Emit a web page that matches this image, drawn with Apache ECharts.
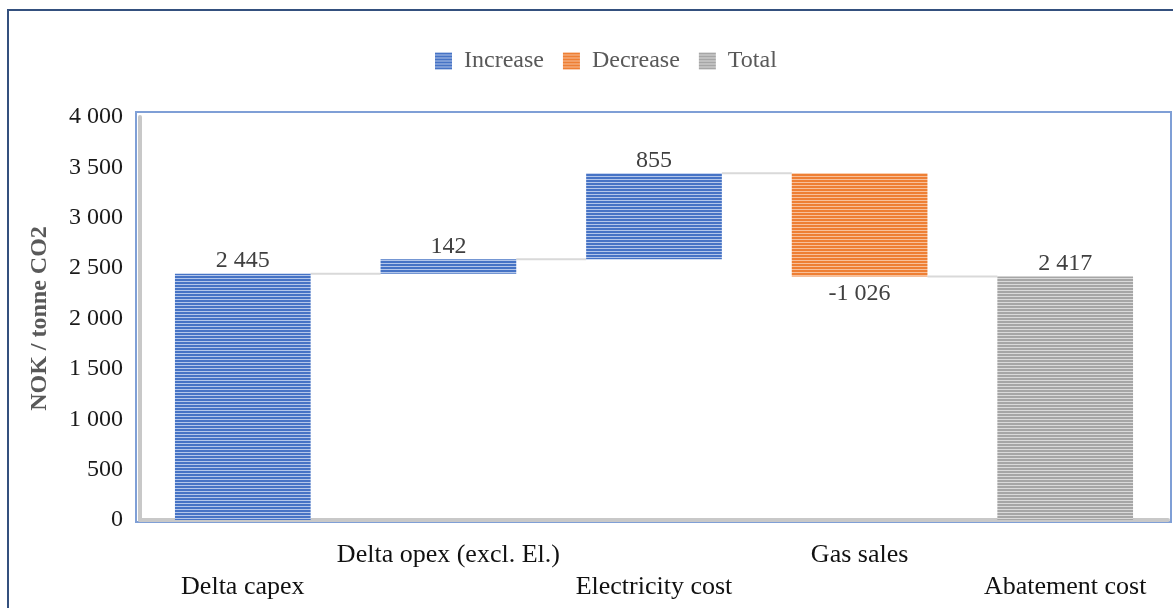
<!DOCTYPE html>
<html>
<head>
<meta charset="utf-8">
<script src="https://cdn.jsdelivr.net/npm/echarts@6/dist/echarts.min.js"></script>
<style>
  html, body { margin: 0; padding: 0; background: #ffffff; }
  #chart { width: 1173px; height: 608px; }
</style>
</head>
<body>
<div id="chart"></div>
<script>
// Waterfall of abatement cost components (NOK / tonne CO2)
const categories = ['Delta capex', 'Delta opex (excl. El.)', 'Electricity cost', 'Gas sales', 'Abatement cost'];
const steps = [2445, 142, 855, -1026];   // signed contributions
const totalValue = 2417;                 // reported total
const yTicks = [0, 500, 1000, 1500, 2000, 2500, 3000, 3500, 4000];

const FONT = 'Liberation Serif';
const fmt = v => {
  const s = String(Math.abs(Math.round(v))).replace(/\B(?=(\d{3})+(?!\d))/g, ' ');
  return (v < 0 ? '-' : '') + s;
};

// Horizontally striped fill, like the hatched bars
function stripes(dark, light) {
  const c = document.createElement('canvas');
  c.width = 4; c.height = 3;
  const g = c.getContext('2d');
  g.fillStyle = dark; g.fillRect(0, 0, 4, 3);
  g.fillStyle = light; g.fillRect(0, 2, 4, 1);
  return { image: c, repeat: 'repeat' };
}
const blueFill = stripes('#4673c5', '#b3c6ea');
const orangeFill = stripes('#ee7f34', '#f8c09a');
const greyFill = stripes('#a6a6a6', '#dadada');

// Build stacked waterfall pieces from the steps
const base = [], inc = [], dec = [], tot = [], levels = [];
let run = 0;
steps.forEach((d, i) => {
  if (d >= 0) { base.push(run); inc.push(d); dec.push('-'); run += d; }
  else { run += d; base.push(run); inc.push('-'); dec.push(-d); }
  tot.push('-');
  levels.push([i, run]);
});
base.push(0); inc.push('-'); dec.push('-'); tot.push(totalValue);

const labelStyle = { show: true, color: '#404040', fontFamily: FONT, fontSize: 24 };

const chart = echarts.init(document.getElementById('chart'));
chart.setOption({
  animation: false,
  textStyle: { fontFamily: FONT },
  graphic: [
    { type: 'rect', silent: true, z: -10,
      shape: { x: 8, y: 10, width: 1200, height: 640 },
      style: { fill: 'none', stroke: '#34507e', lineWidth: 2 } },
    { type: 'rect', silent: true, z: -10,
      shape: { x: 136, y: 112, width: 1035, height: 410 },
      style: { fill: 'none', stroke: '#7f9fd6', lineWidth: 2 } }
  ],
  legend: {
    top: 44, left: 430,
    data: ['Increase', 'Decrease', 'Total'],
    icon: 'rect',
    itemWidth: 17, itemHeight: 17, itemGap: 19,
    textStyle: { fontFamily: FONT, fontSize: 24, color: '#595959', padding: [0, 0, 0, 7] }
  },
  grid: { left: 140, right: 5, top: 117, bottom: 88 },
  xAxis: {
    type: 'category',
    data: categories,
    axisLine: { lineStyle: { color: '#c8c8c8', width: 4 } },
    axisTick: { show: false },
    axisLabel: {
      interval: 0, margin: 19, color: '#111111',
      fontFamily: FONT, fontSize: 26, lineHeight: 32,
      formatter: (v, i) => (i % 2 === 0 ? '\n' + v : v)
    }
  },
  yAxis: {
    type: 'value', min: 0, max: 4000, interval: 500,
    name: 'NOK / tonne CO2', nameLocation: 'middle', nameGap: 88,
    nameTextStyle: { fontFamily: FONT, fontSize: 24, fontWeight: 'bold', color: '#595959' },
    axisLine: { show: true, lineStyle: { color: '#c8c8c8', width: 4 } },
    axisTick: { show: false },
    splitLine: { show: false },
    axisLabel: {
      margin: 17, color: '#1a1a1a', fontFamily: FONT, fontSize: 24,
      customValues: yTicks, formatter: v => fmt(v)
    }
  },
  series: [
    {
      name: 'connector', type: 'custom', z: 1, silent: true,
      data: levels,
      renderItem: (params, api) => {
        const i = api.value(0), y = api.value(1);
        const p1 = api.coord([i, y]), p2 = api.coord([i + 1, y]);
        const half = api.size([1, 0])[0] * 0.33;
        return {
          type: 'line',
          shape: { x1: p1[0] + half, y1: p1[1], x2: p2[0] - half, y2: p2[1] },
          style: { stroke: '#d9d9d9', lineWidth: 2 }
        };
      }
    },
    {
      name: 'base', type: 'bar', stack: 'w', barWidth: '66%', silent: true,
      itemStyle: { color: 'transparent' }, data: base
    },
    {
      name: 'Increase', type: 'bar', stack: 'w', z: 3,
      itemStyle: { color: blueFill }, data: inc,
      label: Object.assign({ position: 'top', distance: 1, formatter: p => fmt(p.value) }, labelStyle)
    },
    {
      name: 'Decrease', type: 'bar', stack: 'w', z: 3,
      itemStyle: { color: orangeFill }, data: dec,
      label: Object.assign({ position: 'bottom', distance: 5, formatter: p => fmt(-p.value) }, labelStyle)
    },
    {
      name: 'Total', type: 'bar', stack: 'w', z: 3,
      itemStyle: { color: greyFill }, data: tot,
      label: Object.assign({ position: 'top', distance: 1, formatter: p => fmt(p.value) }, labelStyle)
    }
  ]
});
</script>
</body>
</html>
